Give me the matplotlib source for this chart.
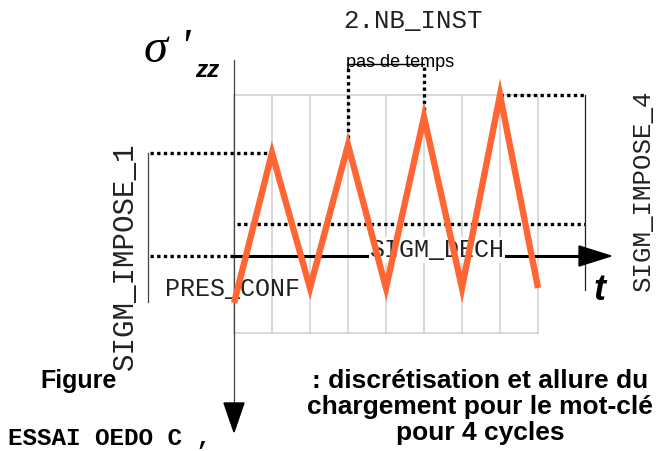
import matplotlib
matplotlib.use("Agg")
import matplotlib.pyplot as plt

# load path (time in steps, stress in arbitrary units with t axis at 0)
steps = [0, 1, 2, 3, 4, 5, 6, 7, 8]
sigma = [-47, 103, -32, 111, -32, 139, -32, 161, -32]

n_steps = 8
grid_top = 161
grid_bottom = -77
sigm_dech = 32
sigm_impose_1 = 103
sigm_impose_4 = 161
pres_conf = -46
nb_inst_steps = [3, 5]
nb_inst_top = 192
t_end = 9.24

caption = [": discrétisation et allure du",
           "chargement pour le mot-clé",
           "pour 4 cycles"]

ORANGE = '#ff6633'
MONO = 'Liberation Mono'
SANS = 'Liberation Sans'

def plot():
    fig = plt.figure(figsize=(6.59, 4.51), dpi=100)
    ax = fig.add_axes([0, 0, 1, 1])
    # 38 px per step horizontally, 1 px per unit vertically
    ax.set_xlim(-234 / 38, 425 / 38)
    ax.set_ylim(-195, 256)
    ax.axis('off')

    dot = dict(color='black', lw=2.4, ls=(0, (1, 1)))

    # time discretisation grid
    for s in steps:
        ax.plot([s, s], [grid_bottom, grid_top], color='#cfcfcf', lw=1.1, zorder=1)
    ax.plot([0, n_steps], [grid_top, grid_top], color='#cfcfcf', lw=1.1, zorder=1)
    ax.plot([0, n_steps], [grid_bottom, grid_bottom], color='#cfcfcf', lw=1.1, zorder=1)

    # dotted levels
    ax.plot([-2.2, 1], [sigm_impose_1, sigm_impose_1], **dot)
    ax.plot([-2.2, 0], [0, 0], **dot)
    ax.plot([0.08, t_end], [sigm_dech, sigm_dech], **dot)
    ax.plot([7, t_end], [sigm_impose_4, sigm_impose_4], **dot)

    # 2.NB_INST bracket
    a, b = nb_inst_steps
    ax.plot([a, a], [sigma[a], nb_inst_top], **dot)
    ax.plot([b, b], [sigma[b], nb_inst_top], **dot)
    ax.plot([a, b], [nb_inst_top, nb_inst_top], color='black', lw=1.0)

    # side brackets
    ax.plot([t_end, t_end], [sigm_impose_4, -34], color='#222222', lw=0.9)
    ax.plot([-2.26, -2.26], [sigm_impose_1, pres_conf], color='#444444', lw=0.9)

    # axes with arrows
    ax.plot([0, 0], [196, -150], color='#444444', lw=0.9, zorder=2)
    ax.fill([-10 / 38, 10 / 38, 0], [-147, -147, -176], color='black', zorder=2)
    ax.plot([0, 9.1], [0, 0], color='black', lw=2.2, zorder=2)
    ax.fill([9.08, 9.08, 9.92], [10, -10, 0], color='black', zorder=2)

    # loading curve
    ax.plot(steps, sigma, color=ORANGE, lw=4.6, solid_joinstyle='miter',
            solid_capstyle='butt', zorder=4)

    # labels
    ax.text(4.71, 228, '2.NB_INST', family=MONO, fontsize=18.5,
            ha='center', va='baseline', color='#222222')
    ax.text(4.37, 189, 'pas de temps', family=SANS, fontsize=13,
            ha='center', va='baseline')
    ax.text(-2.37, 194, 'σ \'', family='Liberation Serif', style='italic',
            fontsize=35, ha='left', va='baseline')
    ax.text(-1.02, 179, 'zz', family=SANS, style='italic', weight='bold',
            fontsize=17.5, ha='left', va='baseline')
    ax.text(-1.816, -40, 'PRES_CONF', family=MONO, fontsize=18,
            ha='left', va='baseline', color='#222222', zorder=3)
    ax.text(5.34, -1, 'SIGM_DECH', family=MONO, fontsize=18,
            ha='center', va='baseline', color='#222222', zorder=3,
            bbox=dict(facecolor='white', edgecolor='none', pad=0.5))
    ax.text(9.63, -44, 't', family=SANS, style='italic', weight='bold',
            fontsize=26, ha='center', va='baseline')
    ax.text(10.76, 66, 'SIGM_IMPOSE_4', family=MONO, fontsize=18.5,
            rotation=90, ha='center', va='center', color='#222222')
    ax.text(-2.87, 0, 'SIGM_IMPOSE_1', family=MONO, fontsize=21,
            rotation=90, ha='center', va='center', color='#222222')

    # caption
    ax.text(-5.1, -132, 'Figure', family=SANS, weight='bold', fontsize=18,
            ha='left', va='baseline')
    ax.text(-5.95, -189, 'ESSAI OEDO C ,', family=MONO, weight='bold',
            fontsize=17.5, ha='left', va='baseline')
    for i, line in enumerate(caption):
        ax.text(6.48, -132 - 26 * i, line, family=SANS, weight='bold',
                fontsize=19, ha='center', va='baseline')

    fig.savefig('out.png', dpi=100)

plot()
